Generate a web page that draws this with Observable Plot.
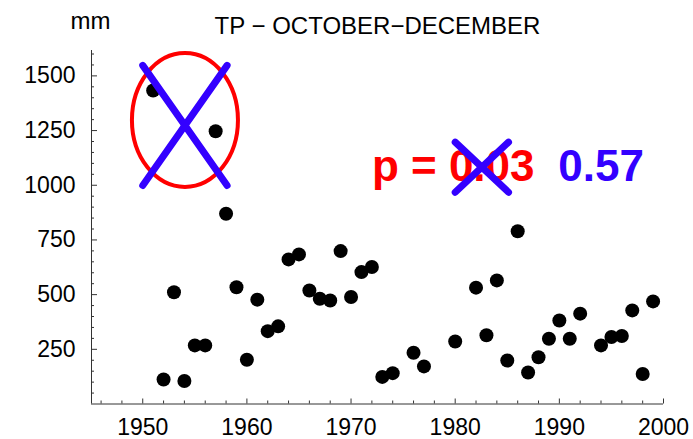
<!DOCTYPE html>
<html><head><meta charset="utf-8">
<script src="https://cdn.jsdelivr.net/npm/d3@7"></script>
<script src="https://cdn.jsdelivr.net/npm/@observablehq/plot@0.6"></script>
<style>
html,body{margin:0;padding:0;background:#fff;}
</style>
</head><body><div id="chart"></div>
<script>
// ---- data ----
const years = [1951,1952,1953,1954,1955,1956,1957,1958,1959,1960,1961,1962,1963,1964,1965,1966,1967,1968,1969,1970,1971,1972,1973,1974,1976,1977,1980,1982,1983,1984,1985,1986,1987,1988,1989,1990,1991,1992,1994,1995,1996,1997,1998,1999];
const precip = [1433,112,511,105,268,268,1247,870,534,202,477,333,355,661,684,519,481,473,699,489,603,626,124,141,234,172,286,532,314,565,199,790,144,214,298,382,298,413,268,306,311,428,137,469];
const xTickLabels = [1950,1960,1970,1980,1990,2000];
const yTickLabels = [250,500,750,1000,1250,1500];
const xMinorTicks = [1946,1948,1952,1954,1956,1958,1962,1964,1966,1968,1972,1974,1976,1978,1982,1984,1986,1988,1992,1994,1996,1998];
const yMinorTicks = [50,100,150,200,300,350,400,450,550,600,650,700,800,850,900,950,1050,1100,1150,1200,1300,1350,1400,1450,1550,1600];
const titleText = "TP − OCTOBER−DECEMBER";
const unitText = "mm";
const pText = "p = 0.03";
const pNewText = "0.57";
// annotation anchors (data coordinates)
const bigCross = [
  {x1:1950.0, y1:1548, x2:1958.1, y2:999},
  {x1:1958.1, y1:1548, x2:1950.0, y2:999}
];
const smallCross = [
  {x1:1980.0, y1:1197, x2:1985.12, y2:968},
  {x1:1985.12, y1:1197, x2:1980.0, y2:968}
];
const ellipseSpec = {cx:1954.1, cy:1296, rx:5.09, ry:306};
const pLabel = [{x:1972.0, y:1086, t:pText}];
const pNewLabel = [{x:1989.9, y:1086, t:pNewText}];

const RED = "#ff0000", BLUE = "#3300ff", AX = "#333";
const xDomain = [1945.08, 2000];
const yDomain = [0, 1616];
const W = 693, H = 439, mL = 91, mR = 30, mT = 50, mB = 35.5;
const frameW = W - mL - mR, frameH = H - mT - mB;

const ellipseMark = (index, scales) => {
  const sx = scales.x, sy = scales.y;
  const cx = sx(ellipseSpec.cx), cy = sy(ellipseSpec.cy);
  const rx = Math.abs(sx(ellipseSpec.cx + ellipseSpec.rx) - cx);
  const ry = Math.abs(sy(ellipseSpec.cy + ellipseSpec.ry) - cy);
  return d3.create("svg:ellipse")
    .attr("cx", cx).attr("cy", cy).attr("rx", rx).attr("ry", ry)
    .attr("fill", "none").attr("stroke", RED).attr("stroke-width", 4).node();
};

const plot = Plot.plot({
  width: W, height: H,
  marginLeft: mL, marginRight: mR, marginTop: mT, marginBottom: mB,
  x: {domain: xDomain, axis: null},
  y: {domain: yDomain, axis: null},
  style: {fontFamily: "'Liberation Sans', Arial, sans-serif", background: "#fff", overflow: "visible"},
  marks: [
    // axes
    Plot.ruleY([0], {stroke: AX, strokeWidth: 1}),
    Plot.ruleX([xDomain[0]], {stroke: AX, strokeWidth: 1}),
    Plot.tickX(xTickLabels, {x: d => d, stroke: AX, insetTop: frameH - 5}),
    Plot.tickX(xMinorTicks, {x: d => d, stroke: AX, insetTop: frameH - 3}),
    Plot.tickY(yTickLabels, {y: d => d, stroke: AX, insetRight: frameW - 6}),
    Plot.tickY(yMinorTicks, {y: d => d, stroke: AX, insetRight: frameW - 3}),
    Plot.text(xTickLabels, {x: d => d, y: 0, dy: 24, text: d => String(d), fontSize: 23, fill: "#000", lineAnchor: "middle"}),
    Plot.text(yTickLabels, {x: xDomain[0], y: d => d, dx: -16, text: d => String(d), fontSize: 23, fill: "#000", textAnchor: "end", lineAnchor: "middle"}),
    // title and unit
    Plot.text([titleText], {frameAnchor: "top", dy: -24, text: d => d, fontSize: 24, fill: "#000", lineAnchor: "middle"}),
    Plot.text([unitText], {frameAnchor: "top-left", dx: -1, dy: -29, text: d => d, fontSize: 24, fill: "#000", textAnchor: "middle", lineAnchor: "middle"}),
    // data
    Plot.dot(years, {x: d => d, y: (d, i) => precip[i], r: 7, fill: "#000", stroke: "none"}),
    // annotations
    ellipseMark,
    Plot.link(bigCross, {x1: "x1", y1: "y1", x2: "x2", y2: "y2", stroke: BLUE, strokeWidth: 7, strokeLinecap: "round"}),
    Plot.text(pLabel, {x: "x", y: "y", text: "t", fill: RED, fontSize: 44, fontWeight: "bold", textAnchor: "start", lineAnchor: "middle"}),
    Plot.text(pNewLabel, {x: "x", y: "y", text: "t", fill: BLUE, fontSize: 44, fontWeight: "bold", textAnchor: "start", lineAnchor: "middle"}),
    Plot.link(smallCross, {x1: "x1", y1: "y1", x2: "x2", y2: "y2", stroke: BLUE, strokeWidth: 7, strokeLinecap: "round"})
  ]
});
document.getElementById("chart").appendChild(plot);
</script>
</body></html>
